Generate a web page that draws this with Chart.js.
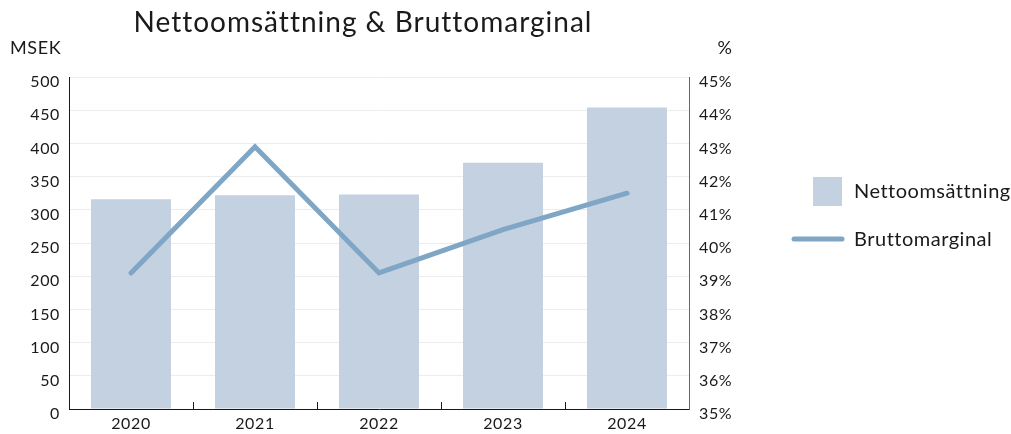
<!DOCTYPE html>
<html><head><meta charset="utf-8">
<script src="https://cdn.jsdelivr.net/npm/chart.js@4.4.1/dist/chart.umd.min.js"></script>
<style>html,body{margin:0;padding:0;background:#fff}#c{display:block}</style>
</head><body>
<canvas id="c" width="1011" height="434"></canvas>
<script>
const titleText = 'Nettoomsättning & Bruttomarginal';
const leftUnit = 'MSEK';
const rightUnit = '%';
const categories = ['2020', '2021', '2022', '2023', '2024'];
const seriesNames = ['Nettoomsättning', 'Bruttomarginal'];
const nettoomsattning = [316, 322, 323, 371, 454];
const bruttomarginal = [39.1, 42.9, 39.1, 40.4, 41.5];
const leftTicks = [0, 50, 100, 150, 200, 250, 300, 350, 400, 450, 500];
const rightTicks = [35, 36, 37, 38, 39, 40, 41, 42, 43, 44, 45];

const BAR = '#c4d1e1';
const LINE = '#80a6c5';
const TXT = '#1a1a1a';
const FONT = 'Lato';

const spacing = {
  id: 'spacing',
  beforeDraw(chart) { chart.ctx.letterSpacing = '0.6px'; }
};

const overlay = {
  id: 'overlay',
  afterDraw(chart) {
    const ctx = chart.ctx;
    ctx.save();
    ctx.fillStyle = TXT;
    ctx.textBaseline = 'alphabetic';
    ctx.letterSpacing = '1px';
    ctx.font = '28px ' + FONT;
    ctx.textAlign = 'center';
    ctx.fillText(titleText, 363, 32);
    ctx.letterSpacing = '0.6px';
    ctx.font = '18px ' + FONT;
    ctx.textAlign = 'left';
    ctx.fillText(leftUnit, 10, 54);
    ctx.textAlign = 'center';
    ctx.fillText(rightUnit, 725, 54);
    // legend
    ctx.fillStyle = BAR;
    ctx.fillRect(813, 177, 29, 29);
    ctx.strokeStyle = LINE;
    ctx.lineWidth = 5;
    ctx.lineCap = 'round';
    ctx.beginPath();
    ctx.moveTo(794, 239);
    ctx.lineTo(842, 239);
    ctx.stroke();
    ctx.fillStyle = TXT;
    ctx.font = '20px ' + FONT;
    ctx.letterSpacing = '0.5px';
    ctx.textAlign = 'left';
    ctx.textBaseline = 'middle';
    ctx.fillText(chart.data.datasets[1].label, 854, 192);
    ctx.fillText(chart.data.datasets[0].label, 854, 240);
    ctx.restore();
  }
};

new Chart(document.getElementById('c'), {
  data: {
    labels: categories,
    datasets: [
      {
        type: 'line', label: seriesNames[1], data: bruttomarginal, yAxisID: 'y1',
        borderColor: LINE, borderWidth: 5, pointRadius: 0, pointHoverRadius: 0,
        borderCapStyle: 'round', borderJoinStyle: 'miter', tension: 0, order: 0
      },
      {
        type: 'bar', label: seriesNames[0], data: nettoomsattning, yAxisID: 'y',
        backgroundColor: BAR, borderWidth: 0, categoryPercentage: 1, barPercentage: 0.645, order: 1
      }
    ]
  },
  options: {
    responsive: false,
    animation: false,
    devicePixelRatio: 1,
    layout: { padding: { top: 77, right: 262, bottom: 0, left: 0 } },
    plugins: { legend: { display: false }, title: { display: false }, tooltip: { enabled: false } },
    scales: {
      x: {
        type: 'category', offset: true,
        grid: { offset: true, drawOnChartArea: false, tickLength: -7, color: '#1a1a1a', tickColor: '#1a1a1a', tickWidth: 1 },
        border: { color: '#1a1a1a', width: 1 },
        ticks: { color: TXT, font: { family: FONT, size: 16 }, padding: 12, maxRotation: 0 },
        afterFit(s) { s.height = 25; }
      },
      y: {
        position: 'left', min: 0, max: 500,
        afterBuildTicks(s) { s.ticks = leftTicks.map(v => ({ value: v })); },
        grid: { color: '#ececec', drawTicks: false },
        border: { color: '#1a1a1a', width: 1 },
        ticks: { color: TXT, font: { family: FONT, size: 16 }, padding: 9, labelOffset: 5 },
        afterFit(s) { s.width = 69; }
      },
      y1: {
        position: 'right', min: 35, max: 45,
        afterBuildTicks(s) { s.ticks = rightTicks.map(v => ({ value: v })); },
        grid: { drawOnChartArea: false, drawTicks: false },
        border: { color: '#666', width: 1 },
        ticks: { color: TXT, font: { family: FONT, size: 16 }, padding: 10, labelOffset: 5, callback: v => v + '%' },
        afterFit(s) { s.width = 60; }
      }
    }
  },
  plugins: [spacing, overlay]
});
</script>
</body></html>
